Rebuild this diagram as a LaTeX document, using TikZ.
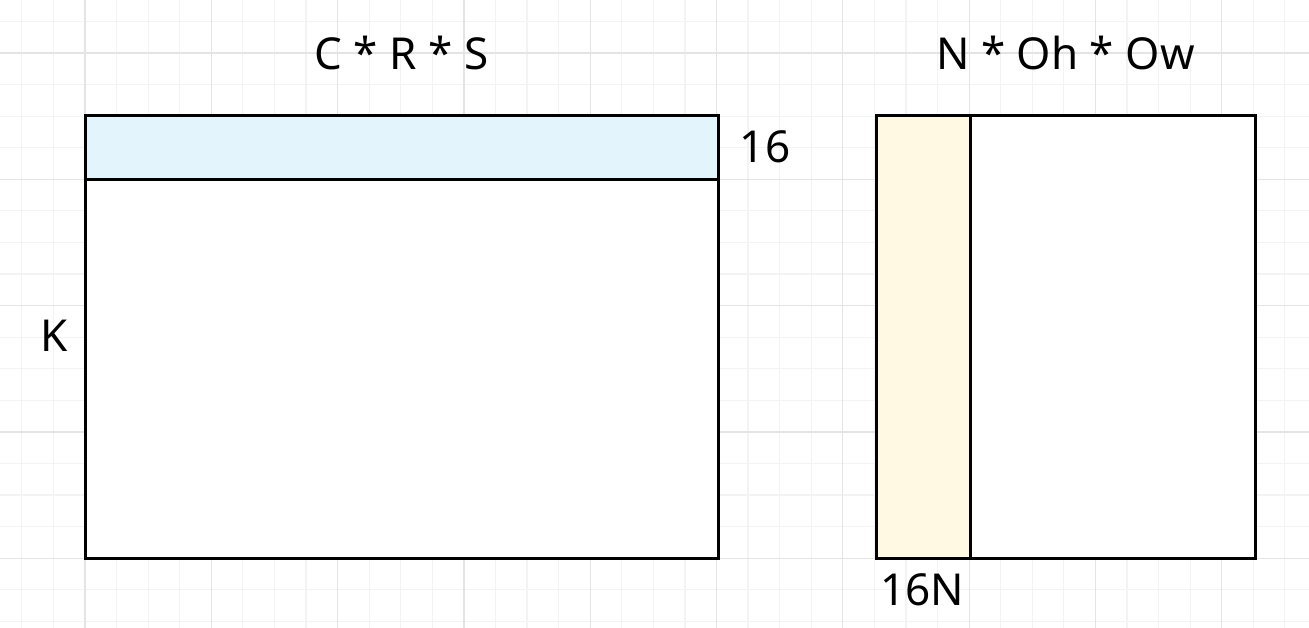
\documentclass[tikz,border=0pt]{standalone}
\usepackage{fontspec}
\setmainfont{Noto Sans}
\definecolor{minorgrid}{HTML}{F3F3F3}
\definecolor{majorgrid}{HTML}{E4E4E4}
\definecolor{stripblue}{HTML}{E3F4FC}
\definecolor{stripyellow}{HTML}{FFF8E2}
\begin{document}
\begin{tikzpicture}[x=1pt,y=-1pt,
  boxline/.style={draw=black,line width=3pt,inner sep=0pt,outer sep=0pt,rectangle},
  lbl/.style={font=\fontsize{44}{50}\selectfont,anchor=base,inner sep=0pt}]
\useasboundingbox[fill=white] (0,0) rectangle (1309,628);
% grid
\foreach \i in {-3,...,41} {
  \pgfmathsetmacro{\gx}{85+\i*31.575}
  \draw[minorgrid,line width=1.2pt] (\gx,0) -- (\gx,628);
}
\foreach \j in {-1,...,19} {
  \pgfmathsetmacro{\gy}{53+\j*31.575}
  \draw[minorgrid,line width=1.2pt] (0,\gy) -- (1309,\gy);
}
\foreach \i in {-1,...,10} {
  \pgfmathsetmacro{\gx}{85+\i*126.3}
  \draw[majorgrid,line width=1.2pt] (\gx,0) -- (\gx,628);
}
\foreach \j in {0,...,4} {
  \pgfmathsetmacro{\gy}{53+\j*126.3}
  \draw[majorgrid,line width=1.2pt] (0,\gy) -- (1309,\gy);
}
% left matrix
\node[boxline,fill=white,minimum width=633pt,minimum height=442pt] (A) at (401.5,337) {};
\node[boxline,fill=stripblue,minimum width=633pt,minimum height=64pt] (Astrip) at (401.5,148) {};
% right matrix
\node[boxline,fill=white,minimum width=379pt,minimum height=442pt] (B) at (1065.5,337) {};
\node[boxline,fill=stripyellow,minimum width=94pt,minimum height=442pt] (Bstrip) at (923,337) {};
% labels
\node[lbl] (t1) at (401.5,70) {C * R * S};
\node[lbl] (t2) at (1065.5,70) {N * Oh * Ow};
\node[lbl] (l16) at (765,163) {16};
\node[lbl] (lK) at (54,352) {K};
\node[lbl] (l16N) at (922,605) {16N};
\end{tikzpicture}
\end{document}
